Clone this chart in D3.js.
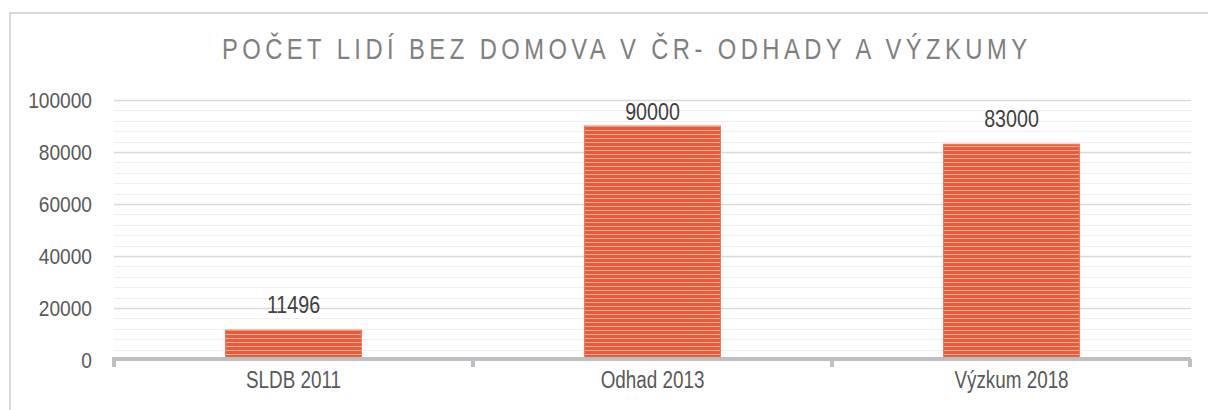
<!DOCTYPE html>
<html>
<head>
<meta charset="utf-8">
<script src="https://cdn.jsdelivr.net/npm/d3@7"></script>
<style>
  body { margin: 0; background: #fff; }
  svg { display: block; }
  text { font-family: "Liberation Sans", Arial, sans-serif; }
</style>
</head>
<body>
<svg id="chart"></svg>
<script>
// chart data
const categories = ["SLDB 2011", "Odhad 2013", "Výzkum 2018"];
const values = [11496, 90000, 83000];
const yTicks = [0, 20000, 40000, 60000, 80000, 100000];
const title = "POČET LIDÍ BEZ DOMOVA V ČR- ODHADY A VÝZKUMY";

const W = 1208, H = 410;
const margin = { top: 100, right: 17, bottom: 50, left: 114 };
const width = W - margin.left - margin.right,
  height = H - margin.top - margin.bottom;
// no narrow font installed, so squeeze the regular one
const narrow = 0.82;
const narrowY = 0.87;

const root = d3.select("#chart").attr("width", W).attr("height", H);

// bar stripe pattern
const pat = root.append("defs").append("pattern")
  .attr("id", "stripes")
  .attr("patternUnits", "userSpaceOnUse")
  .attr("width", 8).attr("height", 4);
pat.append("rect").attr("width", 8).attr("height", 4).attr("fill", "#e95b3b");
pat.append("rect").attr("y", 2).attr("width", 8).attr("height", 1).attr("fill", "#f5ad96");

// outer frame (top and left only)
root.append("path")
  .attr("d", "M10,410V13H1208")
  .attr("fill", "none")
  .attr("stroke", "#d9d9d9")
  .attr("stroke-width", 2);

// title
const t = root.append("g")
  .attr("transform", "translate(222,59)")
  .append("text")
  .attr("transform", "scale(" + narrow + ",1)")
  .style("font-size", "29px")
  .style("fill", "#808080")
  .text(title);
// spread letters so the title spans the same width as the original
const natural = t.node().getComputedTextLength();
t.style("letter-spacing", ((805 / narrow - natural) / (title.length - 1)) + "px");

const svg = root.append("g")
  .attr("transform", "translate(" + margin.left + "," + margin.top + ")");

const x = d3.scaleBand().domain(categories).range([0, width]).paddingInner(0).paddingOuter(0);
const y = d3.scaleLinear().domain([0, 100000]).range([height, 0]);

// minor gridlines
svg.append("g")
  .selectAll("line")
  .data(d3.range(4000, 100000, 4000).filter(v => v % 20000 !== 0))
  .enter()
  .append("line")
  .attr("x1", 0).attr("x2", width)
  .attr("y1", d => Math.round(y(d)) + 0.5)
  .attr("y2", d => Math.round(y(d)) + 0.5)
  .attr("stroke", "#efefef")
  .attr("stroke-width", 1);

// major gridlines
svg.append("g")
  .selectAll("line")
  .data(yTicks.filter(v => v > 0))
  .enter()
  .append("line")
  .attr("x1", 0).attr("x2", width)
  .attr("y1", d => Math.round(y(d)) + 0.5)
  .attr("y2", d => Math.round(y(d)) + 0.5)
  .attr("stroke", "#d9d9d9")
  .attr("stroke-width", 1.5);

// y axis labels
const yAxis = svg.append("g")
  .call(d3.axisLeft(y).tickValues(yTicks).tickSize(0).tickPadding(22 / narrowY).tickFormat(d3.format("d")));
yAxis.select(".domain").remove();
yAxis.selectAll("text")
  .attr("transform", "scale(" + narrowY + ",1)")
  .style("font-size", "22px")
  .style("fill", "#595959")
  .style("font-family", null);

// bars
const bw = 136;
svg.append("g")
  .selectAll("rect")
  .data(values)
  .enter()
  .append("rect")
  .attr("x", (d, i) => x(categories[i]) + x.bandwidth() / 2 - bw / 2)
  .attr("y", d => y(d))
  .attr("width", bw)
  .attr("height", d => height - y(d))
  .attr("fill", "url(#stripes)")
  .attr("stroke", "#ef7c5f")
  .attr("stroke-width", 1);

// data labels, kept inside the plot area
svg.append("g")
  .selectAll("g")
  .data(values)
  .enter()
  .append("g")
  .attr("transform", (d, i) => "translate(" + (x(categories[i]) + x.bandwidth() / 2) + "," +
    Math.max(y(d) - 17, y(100000) + 20) + ")")
  .append("text")
  .attr("transform", "scale(" + narrow + ",1)")
  .attr("text-anchor", "middle")
  .style("font-size", "24px")
  .style("fill", "#404040")
  .text(d => d);

// x axis line and ticks
const xa = svg.append("g").attr("transform", "translate(0," + height + ")");
xa.append("line")
  .attr("x1", -2).attr("x2", width)
  .attr("y1", -1).attr("y2", -1)
  .attr("stroke", "#bfbfc3")
  .attr("stroke-width", 4);
xa.selectAll(".tk")
  .data(d3.range(categories.length + 1))
  .enter()
  .append("line")
  .attr("class", "tk")
  .attr("x1", i => (i === 0 ? 0 : i === categories.length ? width - 1 : x.step() * i))
  .attr("x2", i => (i === 0 ? 0 : i === categories.length ? width - 1 : x.step() * i))
  .attr("y1", -1).attr("y2", 7)
  .attr("stroke", "#bfbfc3")
  .attr("stroke-width", 4);

xa.selectAll(".cat")
  .data(categories)
  .enter()
  .append("g")
  .attr("class", "cat")
  .attr("transform", d => "translate(" + (x(d) + x.bandwidth() / 2) + ",28)")
  .append("text")
  .attr("transform", "scale(" + narrow + ",1)")
  .attr("text-anchor", "middle")
  .style("font-size", "23px")
  .style("fill", "#595959")
  .text(d => d);
</script>
</body>
</html>
